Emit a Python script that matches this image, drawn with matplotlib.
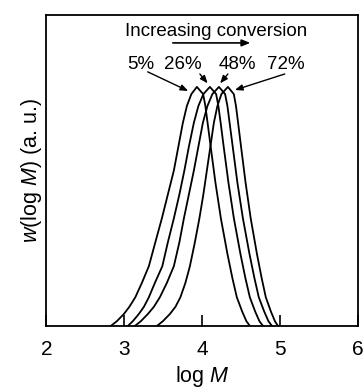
import matplotlib
matplotlib.use("Agg")
import matplotlib.pyplot as plt

plt.rcParams["font.family"] = ["Liberation Sans", "DejaVu Sans"]
plt.rcParams["mathtext.fontset"] = "custom"
plt.rcParams["mathtext.rm"] = "Liberation Sans"
plt.rcParams["mathtext.it"] = "Liberation Sans:italic"

# Molekulové distribúcie pri rôznej konverzii (odčítané z obrázka)
conv_labels = ["5%", "26%", "48%", "72%"]

# spoločné úrovne w(log M): ľavá vetva až po vrchol, potom pravá vetva
w_levels = [0, 0.02, 0.05, 0.08, 0.12, 0.18, 0.25, 0.35, 0.45, 0.55, 0.65, 0.75,
            0.85, 0.92, 0.97, 1.0,
            0.97, 0.92, 0.85, 0.75, 0.6, 0.45, 0.3, 0.2, 0.12, 0.06, 0.02, 0]

logm_05 = [2.826, 2.904, 2.994, 3.064, 3.141, 3.225, 3.315, 3.398, 3.482, 3.559,
           3.636, 3.694, 3.752, 3.803, 3.861, 3.932,
           4.012, 4.041, 4.069, 4.109, 4.170, 4.240, 4.325, 4.388, 4.445, 4.514,
           4.568, 4.613]

logm_26 = [3.045, 3.109, 3.186, 3.251, 3.315, 3.392, 3.488, 3.559, 3.636, 3.707,
           3.771, 3.829, 3.893, 3.951, 4.015, 4.099,
           4.179, 4.208, 4.237, 4.276, 4.337, 4.407, 4.492, 4.555, 4.612, 4.681,
           4.735, 4.781]

logm_48 = [3.135, 3.212, 3.302, 3.379, 3.456, 3.546, 3.636, 3.707, 3.765, 3.829,
           3.893, 3.951, 4.009, 4.067, 4.131, 4.215,
           4.294, 4.324, 4.352, 4.392, 4.452, 4.523, 4.608, 4.671, 4.727, 4.797,
           4.851, 4.896]

logm_72 = [3.418, 3.495, 3.585, 3.656, 3.720, 3.784, 3.842, 3.906, 3.964, 4.015,
           4.060, 4.105, 4.150, 4.195, 4.247, 4.330,
           4.406, 4.434, 4.461, 4.499, 4.557, 4.623, 4.704, 4.764, 4.817, 4.883,
           4.934, 4.973]

curves = [logm_05, logm_26, logm_48, logm_72]

# pozície popiskov a šípok k vrcholom
label_x = [3.21, 3.75, 4.45, 5.07]
label_y = 1.092
arrow_from = [(3.30, 1.063), (3.97, 1.054), (4.33, 1.054), (5.06, 1.054)]
arrow_to = [(3.82, 0.983), (4.07, 1.015), (4.23, 1.015), (4.42, 0.987)]

fig = plt.figure(figsize=(3.63, 3.89), dpi=100)
ax = fig.add_axes([0.128, 0.162, 0.858, 0.799])

for xs in curves:
    ax.plot(xs, w_levels, color="black", lw=1.3, solid_joinstyle="round")

ax.text(4.18, 1.23, "Increasing conversion", ha="center", va="center", fontsize=13.5)
ax.annotate("", xy=(4.654, 1.184), xytext=(3.587, 1.184),
            arrowprops=dict(arrowstyle="-|>,head_length=0.5,head_width=0.2",
                            color="black", lw=1.2))

for lab, lx in zip(conv_labels, label_x):
    ax.text(lx, label_y, lab, ha="center", va="center", fontsize=13.5)

for (x0, y0), (x1, y1) in zip(arrow_from, arrow_to):
    ax.annotate("", xy=(x1, y1), xytext=(x0, y0),
                arrowprops=dict(arrowstyle="-|>,head_length=0.45,head_width=0.18",
                                color="black", lw=1.0, shrinkA=0, shrinkB=0))

ax.set_xlim(2, 6)
ax.set_ylim(0, 1.3)
ax.set_xticks([2, 3, 4, 5, 6])
ax.set_yticks([])
ax.tick_params(axis="x", direction="in", length=8, width=1.2, labelsize=15, pad=10)
for s in ax.spines.values():
    s.set_linewidth(1.3)

ax.set_xlabel(r"log $\it{M}$", fontsize=15.5, labelpad=4)
ax.set_ylabel(r"$\it{w}$(log $\it{M}$) (a. u.)", fontsize=15.5, labelpad=2)

fig.savefig("out.png", dpi=100)
